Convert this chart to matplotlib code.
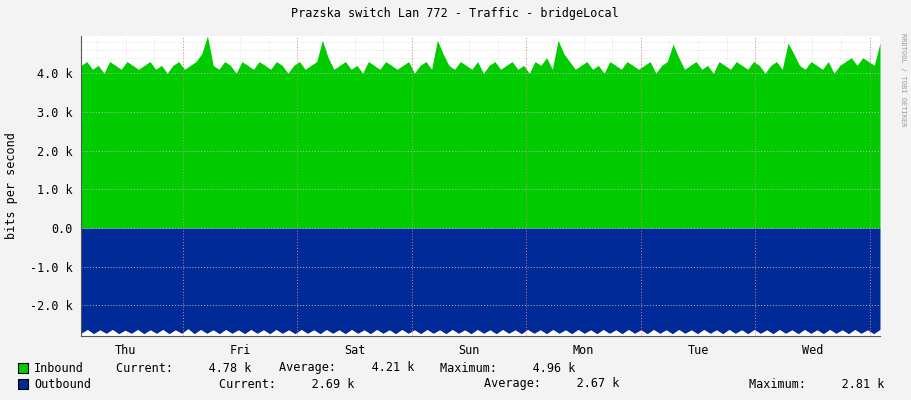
import matplotlib
matplotlib.use("Agg")
import matplotlib.pyplot as plt
import numpy as np

# time in days relative to Thu/Fri midnight; values in k bits/s
inbound = [
 4.2,4.3,4.1,4.2,4.0,4.3,4.2,4.1,4.3,4.2,4.1,4.2,4.3,4.1,4.2,4.0,4.2,4.3,4.1,4.2,
 4.3,4.5,4.96,4.2,4.1,4.3,4.2,4.0,4.3,4.2,4.1,4.3,4.2,4.1,4.3,4.2,4.0,4.2,4.3,4.1,
 4.2,4.3,4.85,4.4,4.1,4.2,4.3,4.1,4.2,4.0,4.3,4.2,4.1,4.3,4.2,4.1,4.2,4.3,4.0,4.2,
 4.3,4.1,4.85,4.5,4.2,4.1,4.3,4.2,4.1,4.3,4.0,4.2,4.3,4.1,4.2,4.3,4.1,4.2,4.0,4.3,
 4.2,4.4,4.1,4.85,4.5,4.3,4.1,4.2,4.3,4.1,4.2,4.0,4.3,4.2,4.1,4.3,4.2,4.1,4.2,4.3,
 4.0,4.2,4.3,4.75,4.4,4.1,4.2,4.3,4.1,4.2,4.0,4.3,4.2,4.1,4.3,4.2,4.1,4.3,4.2,4.0,
 4.2,4.3,4.1,4.78,4.5,4.2,4.1,4.3,4.2,4.1,4.3,4.0,4.2,4.3,4.4,4.2,4.4,4.3,4.2,4.78,
]
outbound = [
 -2.72,-2.62,-2.73,-2.63,-2.72,-2.62,-2.73,-2.64,-2.72,-2.62,-2.73,-2.63,-2.72,-2.62,-2.73,-2.63,
 -2.72,-2.60,-2.73,-2.62,-2.72,-2.63,-2.73,-2.62,-2.72,-2.63,-2.73,-2.62,-2.72,-2.63,-2.73,-2.62,
 -2.72,-2.63,-2.73,-2.62,-2.72,-2.63,-2.73,-2.62,-2.72,-2.63,-2.73,-2.62,-2.72,-2.63,-2.73,-2.62,
 -2.72,-2.63,-2.73,-2.62,-2.72,-2.63,-2.73,-2.62,-2.72,-2.63,-2.73,-2.62,-2.72,-2.63,-2.73,-2.62,
 -2.72,-2.63,-2.73,-2.62,-2.72,-2.63,-2.73,-2.62,-2.72,-2.63,-2.73,-2.62,-2.72,-2.63,-2.73,-2.62,
 -2.72,-2.63,-2.73,-2.62,-2.72,-2.63,-2.73,-2.62,-2.72,-2.63,-2.73,-2.62,-2.72,-2.63,-2.73,-2.62,
 -2.72,-2.63,-2.73,-2.62,-2.72,-2.63,-2.73,-2.62,-2.72,-2.63,-2.73,-2.62,-2.72,-2.63,-2.73,-2.62,
 -2.72,-2.63,-2.73,-2.62,-2.72,-2.63,-2.73,-2.62,-2.72,-2.63,-2.73,-2.62,-2.72,-2.63,-2.73,-2.62,
]
days = ["Thu", "Fri", "Sat", "Sun", "Mon", "Tue", "Wed"]
day_pos = [-0.5, 0.5, 1.5, 2.5, 3.5, 4.5, 5.5]
yticks = [-2.0, -1.0, 0.0, 1.0, 2.0, 3.0, 4.0]
ytick_labels = ["-2.0 k", "-1.0 k", "0.0", "1.0 k", "2.0 k", "3.0 k", "4.0 k"]

x0, x1 = -0.89, 6.09
y0, y1 = -2.79, 4.96
xin = np.linspace(x0, x1, len(inbound))
xout = np.linspace(x0, x1, len(outbound))

mono = "DejaVu Sans Mono"
FS = 8.5
W, H = 911, 400
fig = plt.figure(figsize=(W/100, H/100), dpi=100, facecolor="#F3F3F3")
ax = fig.add_axes([81/W, 1-336/H, (880-81)/W, (336-36)/H])
ax.set_facecolor("white")
ax.set_xlim(x0, x1); ax.set_ylim(y0, y1)

for v in np.arange(-2.6, 4.9, 0.2):
    ax.axhline(v, color="#DDDDDD", lw=0.7, ls=(0, (1, 2)), zorder=0)
for v in np.arange(-0.75, 6.1, 0.25):
    ax.axvline(v, color="#DDDDDD", lw=0.7, ls=(0, (1, 2)), zorder=0)

ax.fill_between(xin, 0, inbound, color="#00CC00", lw=0, zorder=1)
ax.fill_between(xout, 0, outbound, color="#002A97", lw=0, zorder=1)

for v in yticks:
    ax.axhline(v, color="#BBBBBB", lw=0.7, ls=(0, (1, 2)), zorder=2)
for d in range(0, 7):
    ax.axvline(d, color="#E08080", lw=0.7, ls=(0, (1, 2)), zorder=2)

ax.set_yticks(yticks)
ax.set_yticklabels(ytick_labels, fontfamily=mono, fontsize=FS)
ax.set_xticks(day_pos)
ax.set_xticklabels(days, fontfamily=mono, fontsize=FS)
ax.tick_params(length=0, pad=6)
for s in ["top", "right"]:
    ax.spines[s].set_visible(False)
ax.spines["left"].set_color("#555555")
ax.spines["bottom"].set_color("#555555")
fig.text(12/W, 1-186/H, "bits per second", rotation=90, ha="center", va="center",
         fontfamily=mono, fontsize=FS)

fig.text(455/W, 1-14/H, "Prazska switch Lan 772 - Traffic - bridgeLocal",
         ha="center", va="center", fontfamily=mono, fontsize=FS)
fig.text(903/W, 1-80/H, "RRDTOOL / TOBI OETIKER", rotation=270, ha="center",
         va="center", fontfamily=mono, fontsize=5, color="#999999")

def legend_row(y, color, name, parts):
    fig.patches.append(plt.Rectangle((18/W, 1-(y+5)/H), 10/W, 10/H,
                       transform=fig.transFigure, facecolor=color, edgecolor="black", lw=0.8))
    fig.text(34/W, 1-y/H, name, fontfamily=mono, fontsize=FS, va="center")
    for xp, t in parts:
        fig.text(xp/W, 1-y/H, t, fontfamily=mono, fontsize=FS, va="center")

legend_row(368, "#00CC00", "Inbound",
           [(116, "Current:     4.78 k"), (279, "Average:     4.21 k"), (440, "Maximum:     4.96 k")])
legend_row(384, "#002A97", "Outbound",
           [(219, "Current:     2.69 k"), (484, "Average:     2.67 k"), (749, "Maximum:     2.81 k")])

fig.savefig("out.png", dpi=100, facecolor=fig.get_facecolor())
